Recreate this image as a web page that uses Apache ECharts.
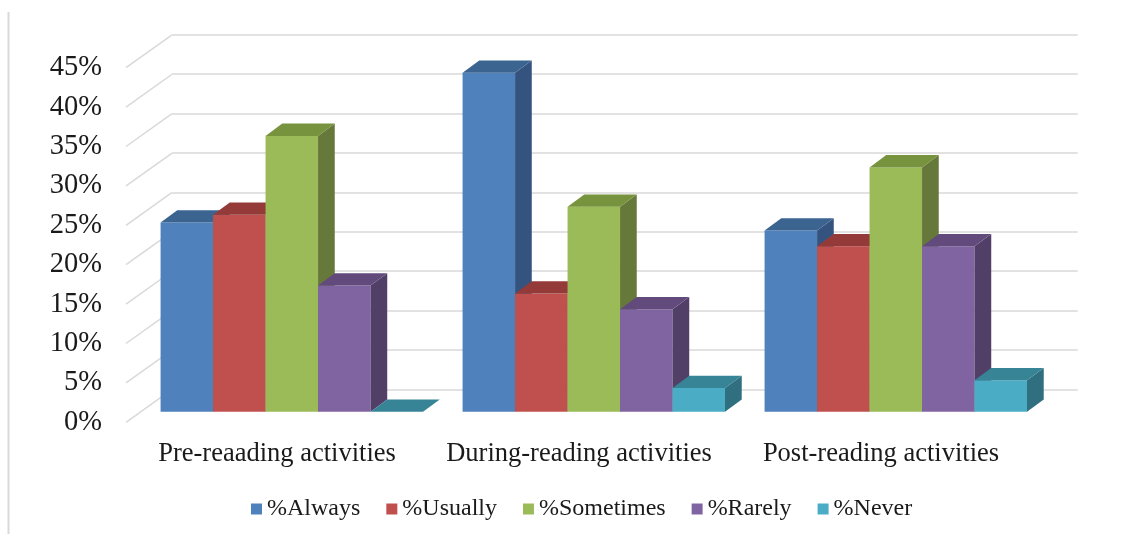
<!DOCTYPE html>
<html>
<head>
<meta charset="utf-8">
<script src="https://cdn.jsdelivr.net/npm/echarts@6/dist/echarts.min.js"></script>
<style>
  html, body { margin: 0; padding: 0; background: #ffffff; }
  #chart { width: 1131px; height: 534px; }
</style>
</head>
<body>
<div id="chart"></div>
<script>
// ---- data ----
const categories = ['Pre-reaading activities', 'During-reading activities', 'Post-reading activities'];
const seriesNames = ['%Always', '%Usually', '%Sometimes', '%Rarely', '%Never'];
const always    = [24, 43, 23];
const usually   = [25, 15, 21];
const sometimes = [35, 26, 31];
const rarely    = [16, 13, 21];
const never     = [0, 3, 4];
const yTicks    = [0, 5, 10, 15, 20, 25, 30, 35, 40, 45];

// ---- style ----
const seriesValues = [always, usually, sometimes, rarely, never];
const frontColors = ['#4F81BD', '#C0504D', '#9BBB59', '#8064A2', '#4BACC6'];
const topColors   = ['#3C6491', '#943B39', '#77933D', '#624B7C', '#378497'];
const sideColors  = ['#34547F', '#7E3230', '#66793A', '#523F68', '#306F80'];
const BAR_DX = 16.7, BAR_DY = 12.3;
const WALL_DX = 45.7, WALL_DY = 32.6;
const BAR_FRAC = 0.1738;
const GRID_W = 906, GRID_H = 354.6;
const FONT = '"Liberation Serif", "Times New Roman", serif';

function barRenderer(si) {
  return function (params, api) {
    const cat = api.value(0), val = api.value(1);
    const base = api.coord([cat, 0]);
    const top = api.coord([cat, val]);
    const band = api.size([1, 0])[0];
    const bw = band * BAR_FRAC;
    const x0 = base[0] - band / 2 + band * (1 - 5 * BAR_FRAC) / 2 + si * bw;
    const yb = base[1], yt = top[1];
    const children = [];
    if (yb - yt > 0.1) {
      children.push({
        type: 'rect',
        shape: { x: x0, y: yt, width: bw, height: yb - yt },
        style: { fill: frontColors[si] }
      });
      children.push({
        type: 'polygon',
        shape: { points: [[x0 + bw, yt], [x0 + bw + BAR_DX, yt - BAR_DY], [x0 + bw + BAR_DX, yb - BAR_DY], [x0 + bw, yb]] },
        style: { fill: sideColors[si] }
      });
    }
    children.push({
      type: 'polygon',
      shape: { points: [[x0, yt], [x0 + bw, yt], [x0 + bw + BAR_DX, yt - BAR_DY], [x0 + BAR_DX, yt - BAR_DY]] },
      style: { fill: topColors[si] }
    });
    return { type: 'group', children: children };
  };
}

function wallDiagRenderer(params, api) {
  const p = api.coord([0, api.value(1)]);
  const band = api.size([1, 0])[0];
  const x0 = p[0] - band / 2;
  return {
    type: 'line',
    shape: { x1: x0, y1: p[1], x2: x0 + WALL_DX, y2: p[1] - WALL_DY },
    style: { stroke: '#d9d9d9', lineWidth: 1.5 }
  };
}

const chart = echarts.init(document.getElementById('chart'), null, { renderer: 'canvas' });

const hiddenCat = (gi) => ({
  type: 'category', gridIndex: gi, data: categories,
  axisLine: { show: false }, axisTick: { show: false }, axisLabel: { show: false }, splitLine: { show: false }
});
const valAxis = (gi, extra) => Object.assign({
  type: 'value', gridIndex: gi, min: 0, max: 45, interval: 5,
  axisLine: { show: false }, axisTick: { show: false }, axisLabel: { show: false }, splitLine: { show: false }
}, extra || {});

const series = seriesNames.map((name, si) => ({
  name: name,
  type: 'custom',
  xAxisIndex: 0, yAxisIndex: 0,
  z: 3,
  itemStyle: { color: frontColors[si] },
  renderItem: barRenderer(si),
  data: seriesValues[si].map((v, ci) => [ci, v]),
  silent: true
}));
series.push({
  name: 'wall',
  type: 'custom',
  xAxisIndex: 2, yAxisIndex: 2,
  z: 1,
  renderItem: wallDiagRenderer,
  data: yTicks.map(v => [0, v]),
  silent: true
});

chart.setOption({
  animation: false,
  backgroundColor: '#ffffff',
  grid: [
    { left: 140.8, top: 57.1, width: GRID_W, height: GRID_H, outerBoundsMode: 'none', containLabel: false },
    { left: 171.7, top: 34.7, width: GRID_W, height: GRID_H, outerBoundsMode: 'none', containLabel: false },
    { left: 126,   top: 67.7, width: GRID_W, height: GRID_H, outerBoundsMode: 'none', containLabel: false }
  ],
  xAxis: [
    hiddenCat(0),
    hiddenCat(1),
    {
      type: 'category', gridIndex: 2, data: categories,
      axisLine: { show: false }, axisTick: { show: false }, splitLine: { show: false },
      axisLabel: { show: true, margin: 18, fontFamily: FONT, fontSize: 26.5, color: '#1a1a1a', interval: 0 }
    }
  ],
  yAxis: [
    valAxis(0),
    valAxis(1, { splitLine: { show: true, lineStyle: { color: '#d9d9d9', width: 1.5 } } }),
    valAxis(2, { axisLabel: { show: true, margin: 24, formatter: '{value}%', fontFamily: FONT, fontSize: 28.5, color: '#1a1a1a' } })
  ],
  legend: {
    data: seriesNames,
    left: 246, top: 492,
    icon: 'rect', itemWidth: 11, itemHeight: 11, itemGap: 26,
    textStyle: { fontFamily: FONT, fontSize: 24, color: '#1a1a1a' },
    selectedMode: false
  },
  graphic: [
    { type: 'line', shape: { x1: 8.5, y1: 12, x2: 8.5, y2: 534 }, style: { stroke: '#d9d9d9', lineWidth: 2 } }
  ],
  series: series
});
</script>
</body>
</html>
